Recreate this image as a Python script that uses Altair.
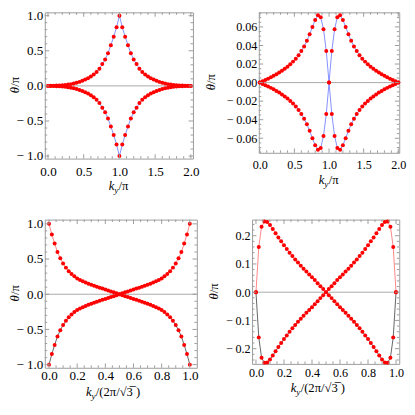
import altair as alt
import pandas as pd

FONT = "Liberation Serif"
FRAME = "#9a9a9a"

# ---------------- data ----------------
KY_PI = [0.00, 0.04, 0.08, 0.12, 0.16, 0.20, 0.24, 0.28, 0.32, 0.36, 0.40, 0.44, 0.48,
         0.52, 0.56, 0.60, 0.64, 0.68, 0.72, 0.76, 0.80, 0.84, 0.88, 0.92, 0.96, 1.00,
         1.04, 1.08, 1.12, 1.16, 1.20, 1.24, 1.28, 1.32, 1.36, 1.40, 1.44, 1.48, 1.52,
         1.56, 1.60, 1.64, 1.68, 1.72, 1.76, 1.80, 1.84, 1.88, 1.92, 1.96, 2.00]

KY_UNIT = [0.00, 0.02, 0.04, 0.06, 0.08, 0.10, 0.12, 0.14, 0.16, 0.18, 0.20, 0.22, 0.24,
           0.26, 0.28, 0.30, 0.32, 0.34, 0.36, 0.38, 0.40, 0.42, 0.44, 0.46, 0.48, 0.50,
           0.52, 0.54, 0.56, 0.58, 0.60, 0.62, 0.64, 0.66, 0.68, 0.70, 0.72, 0.74, 0.76,
           0.78, 0.80, 0.82, 0.84, 0.86, 0.88, 0.90, 0.92, 0.94, 0.96, 0.98, 1.00]

P1_UP = [0.000, 0.001, 0.002, 0.004, 0.007, 0.010, 0.014, 0.019, 0.025, 0.033, 0.043, 0.057, 0.074,
         0.090, 0.110, 0.135, 0.162, 0.196, 0.245, 0.310, 0.375, 0.465, 0.580, 0.700, 0.835, 1.000,
         0.835, 0.700, 0.580, 0.465, 0.375, 0.310, 0.245, 0.196, 0.162, 0.135, 0.110, 0.090, 0.074,
         0.057, 0.043, 0.033, 0.025, 0.019, 0.014, 0.010, 0.007, 0.004, 0.002, 0.001, 0.000]
P1_LO = [-0.000, -0.001, -0.002, -0.004, -0.007, -0.010, -0.014, -0.019, -0.025, -0.033, -0.043, -0.057, -0.074,
         -0.090, -0.110, -0.135, -0.162, -0.196, -0.245, -0.310, -0.375, -0.465, -0.580, -0.700, -0.835, -1.000,
         -0.835, -0.700, -0.580, -0.465, -0.375, -0.310, -0.245, -0.196, -0.162, -0.135, -0.110, -0.090, -0.074,
         -0.057, -0.043, -0.033, -0.025, -0.019, -0.014, -0.010, -0.007, -0.004, -0.002, -0.001, -0.000]

P2_UP = [0.0000, 0.0014, 0.0028, 0.0042, 0.0057, 0.0073, 0.0090, 0.0108, 0.0128, 0.0149, 0.0172, 0.0198, 0.0226,
         0.0258, 0.0295, 0.0340, 0.0390, 0.0450, 0.0520, 0.0600, 0.0675, 0.0725, 0.0705, 0.0575, 0.0340, 0.0000,
         0.0340, 0.0575, 0.0705, 0.0725, 0.0675, 0.0600, 0.0520, 0.0450, 0.0390, 0.0340, 0.0295, 0.0258, 0.0226,
         0.0198, 0.0172, 0.0149, 0.0128, 0.0108, 0.0090, 0.0073, 0.0057, 0.0042, 0.0028, 0.0014, 0.0000]
P2_LO = [-0.0000, -0.0014, -0.0028, -0.0042, -0.0057, -0.0073, -0.0090, -0.0108, -0.0128, -0.0149, -0.0172, -0.0198, -0.0226,
         -0.0258, -0.0295, -0.0340, -0.0390, -0.0450, -0.0520, -0.0600, -0.0675, -0.0725, -0.0705, -0.0575, -0.0340, -0.0000,
         -0.0340, -0.0575, -0.0705, -0.0725, -0.0675, -0.0600, -0.0520, -0.0450, -0.0390, -0.0340, -0.0295, -0.0258, -0.0226,
         -0.0198, -0.0172, -0.0149, -0.0128, -0.0108, -0.0090, -0.0073, -0.0057, -0.0042, -0.0028, -0.0014, -0.0000]

P3_UP = [1.000, 0.850, 0.720, 0.600, 0.510, 0.438, 0.378, 0.328, 0.288, 0.254, 0.225, 0.203, 0.184,
         0.166, 0.150, 0.135, 0.120, 0.106, 0.093, 0.080, 0.067, 0.054, 0.040, 0.027, 0.013, 0.000,
         0.013, 0.027, 0.040, 0.054, 0.067, 0.080, 0.093, 0.106, 0.120, 0.135, 0.150, 0.166, 0.184,
         0.203, 0.225, 0.254, 0.288, 0.328, 0.378, 0.438, 0.510, 0.600, 0.720, 0.850, 1.000]
P3_LO = [-1.000, -0.850, -0.720, -0.600, -0.510, -0.438, -0.378, -0.328, -0.288, -0.254, -0.225, -0.203, -0.184,
         -0.166, -0.150, -0.135, -0.120, -0.106, -0.093, -0.080, -0.067, -0.054, -0.040, -0.027, -0.013, -0.000,
         -0.013, -0.027, -0.040, -0.054, -0.067, -0.080, -0.093, -0.106, -0.120, -0.135, -0.150, -0.166, -0.184,
         -0.203, -0.225, -0.254, -0.288, -0.328, -0.378, -0.438, -0.510, -0.600, -0.720, -0.850, -1.000]

P4_UP = [0.000, 0.160, 0.232, 0.250, 0.249, 0.238, 0.224, 0.209, 0.194, 0.180, 0.166, 0.153, 0.140,
         0.128, 0.116, 0.105, 0.094, 0.083, 0.073, 0.063, 0.053, 0.043, 0.032, 0.021, 0.011, 0.000,
         0.011, 0.021, 0.032, 0.043, 0.053, 0.063, 0.073, 0.083, 0.094, 0.105, 0.116, 0.128, 0.140,
         0.153, 0.166, 0.180, 0.194, 0.209, 0.224, 0.238, 0.249, 0.250, 0.232, 0.160, 0.000]
P4_LO = [-0.000, -0.160, -0.232, -0.250, -0.249, -0.238, -0.224, -0.209, -0.194, -0.180, -0.166, -0.153, -0.140,
         -0.128, -0.116, -0.105, -0.094, -0.083, -0.073, -0.063, -0.053, -0.043, -0.032, -0.021, -0.011, -0.000,
         -0.011, -0.021, -0.032, -0.043, -0.053, -0.063, -0.073, -0.083, -0.094, -0.105, -0.116, -0.128, -0.140,
         -0.153, -0.166, -0.180, -0.194, -0.209, -0.224, -0.238, -0.249, -0.250, -0.232, -0.160, -0.000]

# tick values
X2_MAJ = [0.0, 0.5, 1.0, 1.5, 2.0]
X2_MIN = [0.1, 0.2, 0.3, 0.4, 0.6, 0.7, 0.8, 0.9, 1.1, 1.2, 1.3, 1.4, 1.6, 1.7, 1.8, 1.9]
X1_MAJ = [0.0, 0.2, 0.4, 0.6, 0.8, 1.0]
X1_MIN = [0.05, 0.1, 0.15, 0.25, 0.3, 0.35, 0.45, 0.5, 0.55, 0.65, 0.7, 0.75, 0.85, 0.9, 0.95]
Y1_MAJ = [-1.0, -0.5, 0.0, 0.5, 1.0]
Y1_MIN = [-0.9, -0.8, -0.7, -0.6, -0.4, -0.3, -0.2, -0.1, 0.1, 0.2, 0.3, 0.4, 0.6, 0.7, 0.8, 0.9]
Y2_MAJ = [-0.06, -0.04, -0.02, 0.0, 0.02, 0.04, 0.06]
Y2_MIN = [-0.075, -0.07, -0.065, -0.055, -0.05, -0.045, -0.035, -0.03, -0.025, -0.015, -0.01, -0.005,
          0.005, 0.01, 0.015, 0.025, 0.03, 0.035, 0.045, 0.05, 0.055, 0.065, 0.07, 0.075]
Y4_MAJ = [-0.2, -0.1, 0.0, 0.1, 0.2]
Y4_MIN = [-0.24, -0.22, -0.18, -0.16, -0.14, -0.12, -0.08, -0.06, -0.04, -0.02,
          0.02, 0.04, 0.06, 0.08, 0.12, 0.14, 0.16, 0.18, 0.22, 0.24]

BLUE = "#7482ff"
PINK = "#ff7878"
DARK = "#505050"


def one(v=0):
    return alt.Data(values=[{"a": v}])


def txt(text, x, y, size, style="normal", angle=0, align="left", baseline="alphabetic"):
    return alt.Chart(one()).mark_text(
        text=text, font=FONT, fontSize=size, fontStyle=style, angle=angle,
        align=align, baseline=baseline, color="#000000"
    ).encode(x=alt.value(x), y=alt.value(y))


def ticks(vals, scale, ax, side, length, W, H):
    d = alt.Data(values=[{"v": v} for v in vals])
    c = alt.Chart(d).mark_rule(color=FRAME, strokeWidth=1)
    if side == "left":
        return c.encode(y=alt.Y("v:Q", scale=scale, axis=ax), x=alt.value(0), x2=alt.value(length))
    if side == "right":
        return c.encode(y=alt.Y("v:Q", scale=scale, axis=ax), x=alt.value(W - length), x2=alt.value(W))
    if side == "bottom":
        return c.encode(x=alt.X("v:Q", scale=scale, axis=ax), y=alt.value(H - length), y2=alt.value(H))
    return c.encode(x=alt.X("v:Q", scale=scale, axis=ax), y=alt.value(0), y2=alt.value(length))


def panel(ky, up, lo, xdom, ydom, xmaj, xmin, ymaj, ymin, xfmt, yfmt, cu, cl, W, H,
          lfs, gap, xlabpad, xtitle, xt_y, yt_x):
    d_up = pd.DataFrame({"x": ky, "t": up})
    d_lo = pd.DataFrame({"x": ky, "t": lo})
    d_all = pd.DataFrame({"x": ky + ky, "t": up + lo})
    xs = alt.Scale(domain=xdom, nice=False, zero=False)
    ys = alt.Scale(domain=ydom, nice=False, zero=False)
    xax = alt.Axis(values=xmaj, format=xfmt, ticks=False, tickSize=0, domain=False, grid=False,
                   labelFont=FONT, labelFontSize=lfs, labelColor="#000000", labelPadding=xlabpad,
                   labelFlush=False, title=None)
    yax = alt.Axis(values=ymaj, format=yfmt, ticks=False, tickSize=0, domain=False, grid=False,
                   labelFont=FONT, labelFontSize=lfs, labelColor="#000000", labelPadding=2,
                   labelExpr="replace(datum.label, '\u2212', '\u2212" + gap + "')",
                   title=None)
    X = alt.X("x:Q", scale=xs, axis=xax)
    Y = alt.Y("t:Q", scale=ys, axis=yax)
    line_up = alt.Chart(d_up).mark_line(strokeWidth=0.9, color=cu).encode(x=X, y=Y)
    line_lo = alt.Chart(d_lo).mark_line(strokeWidth=0.9, color=cl).encode(x=X, y=Y)
    zero = alt.Chart(one(0)).mark_rule(color="#a8a8a8", strokeWidth=1).encode(
        y=alt.Y("a:Q", scale=ys, axis=yax))
    pts = alt.Chart(d_all).mark_circle(size=17, color="#ff0000", opacity=1).encode(x=X, y=Y)
    layers = [line_up, zero, line_lo, pts]
    for side in ("left", "right"):
        layers.append(ticks(ymaj, ys, yax, side, 4.5, W, H))
        layers.append(ticks(ymin, ys, yax, side, 2.5, W, H))
    for side in ("bottom", "top"):
        layers.append(ticks(xmaj, xs, xax, side, 4.5, W, H))
        layers.append(ticks(xmin, xs, xax, side, 2.5, W, H))
    for (s, dx, dy, size, style) in xtitle:
        layers.append(txt(s, W / 2 + dx, xt_y + dy, size, style))
    layers.append(txt("θ", yt_x, H / 2 + 8, 13, "italic", angle=270, baseline="middle"))
    layers.append(txt("/π", yt_x, H / 2 + 8 - 6.6, 13, "normal", angle=270, baseline="middle"))
    return alt.layer(*layers).properties(width=W, height=H)


XT_PI = [("k", -10.5, 0, 13, "italic"), ("y", -4.9, 3.2, 9.5, "italic"), ("/π", -0.4, 0, 13, "normal")]
XT_SQ = [("k", -36, 0, 13, "italic"), ("y", -30.4, 3.2, 9.5, "italic"),
         ("/(2π/√3\u0305 )", -25.8, 0, 13, "normal")]

p1 = panel(KY_PI, P1_UP, P1_LO, [-0.045, 2.03], [-1.036, 1.047], X2_MAJ, X2_MIN, Y1_MAJ, Y1_MIN,
           ".1f", ".1f", BLUE, BLUE, 153, 151, 13.5, " ", 6, XT_PI, 183, -31)
p2 = panel(KY_PI, P2_UP, P2_LO, [-0.014, 2.014], [-0.0757, 0.0757], X2_MAJ, X2_MIN, Y2_MAJ, Y2_MIN,
           ".1f", ".2f", BLUE, BLUE, 145, 145, 12.5, "\u2009", 6, XT_PI, 177, -49)
p3 = panel(KY_UNIT, P3_UP, P3_LO, [-0.03, 1.05], [-1.045, 1.06], X1_MAJ, X1_MIN, Y1_MAJ, Y1_MIN,
           ".1f", ".1f", PINK, DARK, 157, 153, 13.5, " ", 1, XT_SQ, 182, -31)
p4 = panel(KY_UNIT, P4_UP, P4_LO, [-0.028, 1.023], [-0.254, 0.257], X1_MAJ, X1_MIN, Y4_MAJ, Y4_MIN,
           ".1f", ".1f", PINK, DARK, 152, 149, 12.5, "\u2009", 3, XT_SQ, 178, -39)

row1 = alt.hconcat(p1, p2, spacing=68, bounds="flush")
row2 = alt.hconcat(p3, p4, spacing=57, bounds="flush")
chart = alt.vconcat(row1, row2, spacing=21).properties(
    padding={"left": 0, "top": -7, "right": 0, "bottom": 0}
).configure_view(stroke=FRAME, strokeWidth=1).configure_axis(
    labelFont=FONT, labelColor="#000000"
)

chart.save("out.html", embed_options={"renderer": "svg", "actions": False})
